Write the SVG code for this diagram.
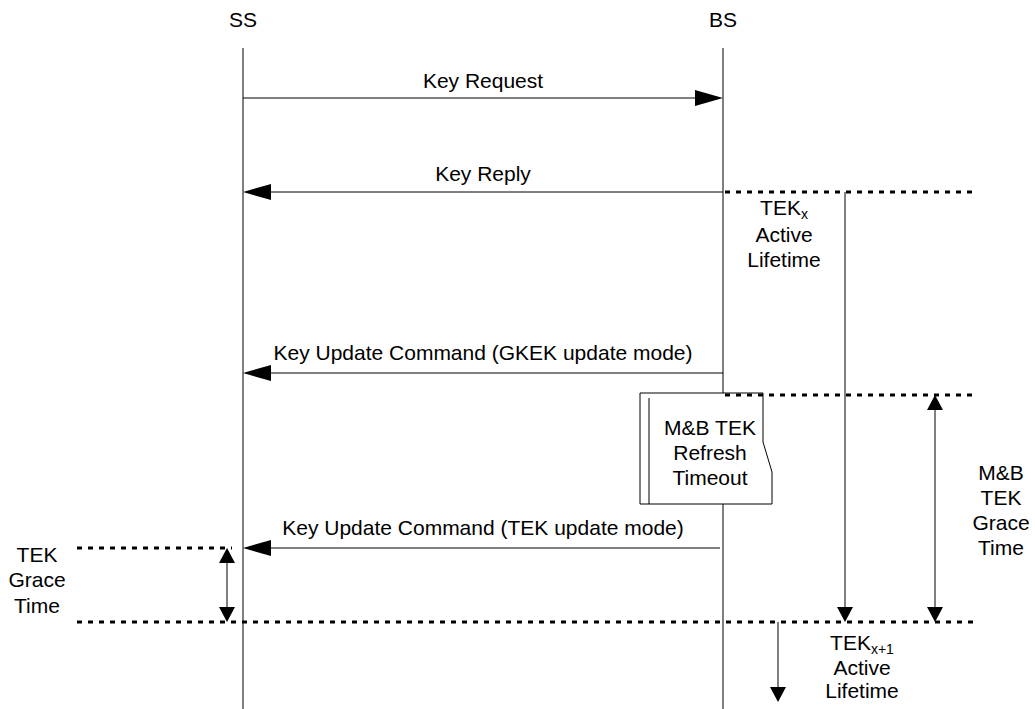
<svg xmlns="http://www.w3.org/2000/svg" width="1035" height="709" viewBox="0 0 1035 709">
<style>
text{font-family:"Liberation Sans",Arial,sans-serif;font-size:21px;fill:#000;text-anchor:middle}
.l{stroke:#000;stroke-width:1;fill:none}
.d{stroke:#000;stroke-width:3;stroke-dasharray:5 6;fill:none}
.h{fill:#000;stroke:none}
</style>
<rect width="1035" height="709" fill="#fff"/>
<g id="ss"><text x="243" y="27">SS</text><line class="l" x1="243" y1="48" x2="243" y2="709"/></g>
<g id="bs"><text x="723" y="27">BS</text><line class="l" x1="723" y1="48" x2="723" y2="709"/></g>
<g id="timeout">
<path d="M640,393 H763 V442 L772,472 V504 H640 Z" fill="#fff" stroke="#000" stroke-width="1"/>
<line class="l" x1="649" y1="398" x2="649" y2="504"/>
<text x="710" y="435">M&amp;B TEK</text><text x="710" y="460">Refresh</text><text x="710" y="485">Timeout</text>
</g>
<g id="connectors">
<line class="l" x1="243" y1="98" x2="696" y2="98"/><polygon class="h" points="723,98 695,90 695,106"/>
<text x="483" y="88">Key Request</text>
<line class="l" x1="723" y1="192" x2="270" y2="192"/><polygon class="h" points="243,192 271,184 271,200"/>
<text x="483" y="181">Key Reply</text>
<line class="l" x1="723" y1="373" x2="270" y2="373"/><polygon class="h" points="243,373 271,365 271,381"/>
<text x="483" y="360">Key Update Command (GKEK update mode)</text>
<line class="l" x1="720" y1="548" x2="270" y2="548"/><polygon class="h" points="243,548 271,540 271,556"/>
<text x="483" y="535">Key Update Command (TEK update mode)</text>
<line class="d" x1="725" y1="192" x2="975" y2="192"/>
<line class="d" x1="725" y1="395" x2="975" y2="395"/>
<line class="d" x1="77" y1="548" x2="232" y2="548"/>
<line class="d" x1="77" y1="622" x2="975" y2="622"/>
<line class="l" x1="845" y1="192" x2="845" y2="610"/><polygon class="h" points="845,622 837,607 853,607"/>
<line class="l" x1="935" y1="408" x2="935" y2="610"/><polygon class="h" points="935,395 927,410 943,410"/><polygon class="h" points="935,622 927,607 943,607"/>
<line class="l" x1="227" y1="560" x2="227" y2="610"/><polygon class="h" points="227,548 219,563 235,563"/><polygon class="h" points="227,622 219,607 235,607"/>
<line class="l" x1="778" y1="622" x2="778" y2="690"/><polygon class="h" points="778,702 770,687 786,687"/>
</g>
<g id="tekx"><text x="784" y="215">TEK<tspan font-size="14" dy="4">x</tspan></text><text x="784" y="242">Active</text><text x="784" y="267">Lifetime</text></g>
<g id="mbgrace"><text x="1001" y="480">M&amp;B</text><text x="1001" y="505">TEK</text><text x="1001" y="530">Grace</text><text x="1001" y="555">Time</text></g>
<g id="tekgrace"><text x="37" y="562">TEK</text><text x="37" y="587">Grace</text><text x="37" y="613">Time</text></g>
<g id="tekx1"><text x="862" y="650">TEK<tspan font-size="14" dy="4">x+1</tspan></text><text x="862" y="675">Active</text><text x="862" y="698">Lifetime</text></g>
</svg>
